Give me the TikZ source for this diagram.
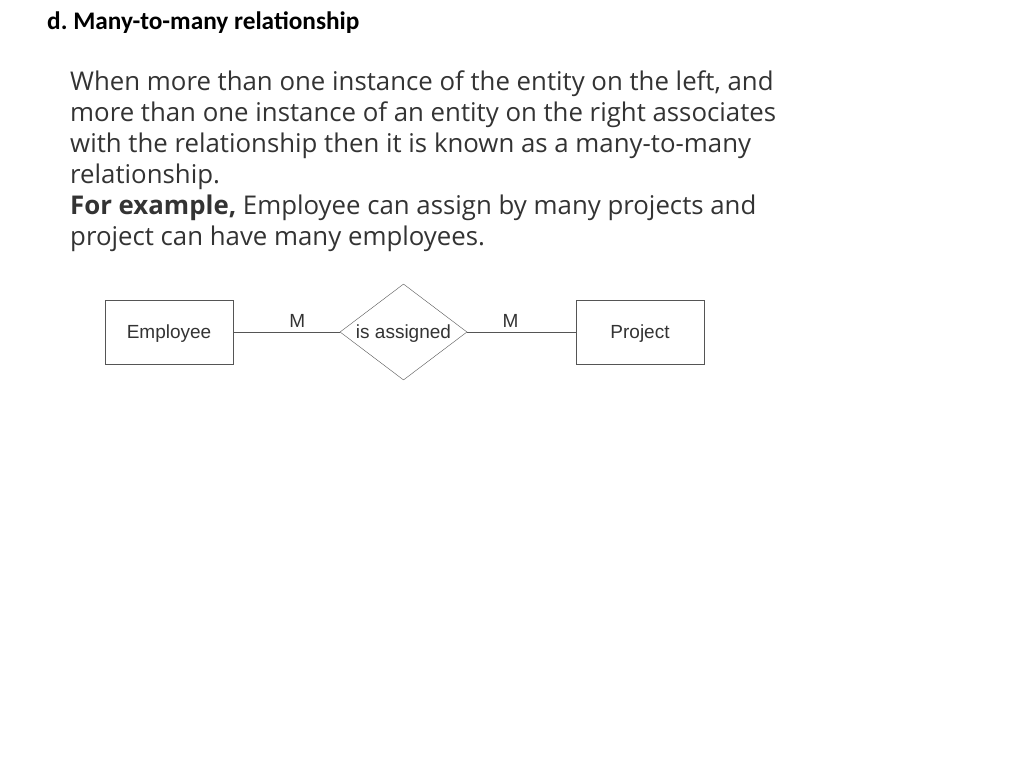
\documentclass[tikz,border=0pt]{standalone}
\usepackage{fontspec}
\setmainfont{Open Sans}
\newfontfamily\titlefont{Carlito}
\newfontfamily\diafont{Liberation Sans}
\usetikzlibrary{positioning, shapes.geometric}
\definecolor{bodygray}{HTML}{333333}
\definecolor{linegray}{HTML}{555555}
\tikzset{style={font=\diafont\fontsize{19}{22}\selectfont}}

\begin{document}
\begin{tikzpicture}[
            x=1pt, y=-1pt,
            entity/.style={
                draw=linegray,
                minimum width=128pt,
                minimum height=64pt,
                text depth=0pt,
                text=bodygray,
            },
            relation/.style={
                diamond,
                draw=linegray,
                aspect=1.32,
                inner sep=1pt,
                minimum width=127pt,
                minimum height=96pt,
                text depth=0pt,
                text=bodygray,
            }]
        \useasboundingbox (0,0) rectangle (1024,768);
        \node[anchor=base west, inner sep=0pt, font=\titlefont\bfseries\fontsize{25.3}{29}\selectfont](title) at (47,30) {d.\ Many-to-many relationship};
        \node[anchor=north west, inner sep=0pt, align=left, text=bodygray,
              font=\fontsize{25.8}{31}\selectfont](body) at (70,71) {When more than one instance of the entity on the left, and\\
            more than one instance of an entity on the right associates\\
            with the relationship then it is known as a many-to-many\\
            relationship.\\
            \textbf{For example,} Employee can assign by many projects and\\
            project can have many employees.};
        \node[entity](emp) at (169,332) {Employee};
        \node[relation](asg) at (403.5,332) {is assigned};
        \node[entity](proj) at (640,332) {Project};
        \draw[linegray] (emp) -- node[above=1pt, pos=0.6, text=bodygray]{M} (asg);
        \draw[linegray] (asg) -- node[above=1pt, pos=0.4, text=bodygray]{M} (proj);
        \end{tikzpicture}
\end{document}
